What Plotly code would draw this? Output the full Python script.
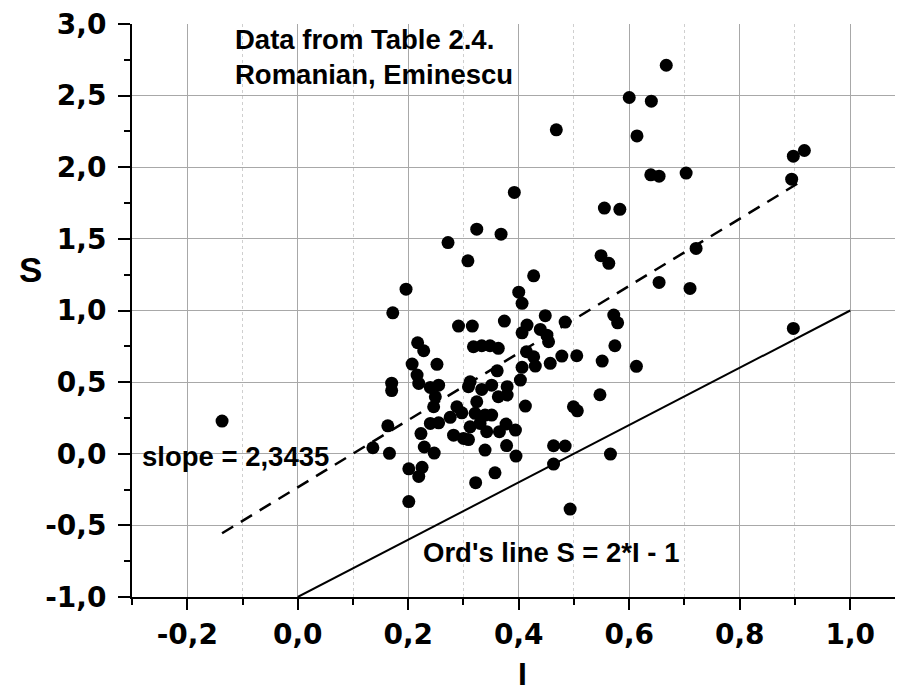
import plotly.graph_objects as go

# ---- data ----
I_vals = [0.667, 0.600, 0.640, 0.468, 0.614, 0.917, 0.897, 0.639, 0.654, 0.703,
          0.894, 0.392, 0.324, 0.368, 0.272, 0.308, 0.427, 0.196, 0.400, 0.406,
          0.172, 0.448, 0.374, 0.484, 0.555, 0.583, 0.549, 0.563, 0.721, 0.654,
          0.710, 0.572, 0.579, 0.574, 0.478, 0.505, 0.551, 0.613, 0.897, 0.547,
          0.499, 0.506, 0.484, 0.566, 0.463, 0.463, 0.493, -0.137, 0.291, 0.316,
          0.415, 0.406, 0.439, 0.451, 0.454, 0.217, 0.228, 0.318, 0.333, 0.348,
          0.363, 0.414, 0.427, 0.457, 0.430, 0.406, 0.361, 0.207, 0.252, 0.216,
          0.219, 0.170, 0.170, 0.240, 0.255, 0.312, 0.309, 0.333, 0.351, 0.379,
          0.403, 0.363, 0.379, 0.249, 0.246, 0.324, 0.321, 0.288, 0.297, 0.276,
          0.255, 0.240, 0.223, 0.312, 0.330, 0.339, 0.351, 0.342, 0.365, 0.377,
          0.394, 0.412, 0.282, 0.300, 0.309, 0.229, 0.247, 0.163, 0.136, 0.166,
          0.339, 0.378, 0.395, 0.201, 0.225, 0.219, 0.357, 0.322, 0.201]
S_vals = [2.712, 2.487, 2.461, 2.261, 2.219, 2.117, 2.077, 1.947, 1.938, 1.959,
          1.917, 1.824, 1.568, 1.533, 1.474, 1.347, 1.242, 1.149, 1.128, 1.050,
          0.984, 0.964, 0.926, 0.919, 1.715, 1.706, 1.383, 1.329, 1.433, 1.196,
          1.154, 0.968, 0.914, 0.754, 0.682, 0.684, 0.647, 0.610, 0.875, 0.412,
          0.328, 0.300, 0.054, -0.002, 0.056, -0.072, -0.386, 0.228, 0.891, 0.891,
          0.898, 0.844, 0.868, 0.828, 0.782, 0.775, 0.719, 0.747, 0.754, 0.754,
          0.736, 0.712, 0.677, 0.631, 0.612, 0.603, 0.579, 0.626, 0.624, 0.549,
          0.491, 0.493, 0.441, 0.463, 0.479, 0.502, 0.468, 0.449, 0.479, 0.468,
          0.514, 0.398, 0.410, 0.398, 0.328, 0.363, 0.282, 0.328, 0.286, 0.254,
          0.216, 0.212, 0.141, 0.188, 0.212, 0.270, 0.270, 0.154, 0.154, 0.207,
          0.165, 0.333, 0.130, 0.107, 0.099, 0.047, 0.005, 0.195, 0.042, 0.003,
          0.026, 0.057, -0.016, -0.105, -0.095, -0.158, -0.133, -0.202, -0.334]

fit_slope = 2.3435
fit_intercept = -0.234
ord_I = [0.0, 1.0]

x_tick_vals = [-0.2, 0.0, 0.2, 0.4, 0.6, 0.8, 1.0]
x_tick_text = ["-0,2", "0,0", "0,2", "0,4", "0,6", "0,8", "1,0"]
y_tick_vals = [-1.0, -0.5, 0.0, 0.5, 1.0, 1.5, 2.0, 2.5, 3.0]
y_tick_text = ["-1,0", "-0,5", "0,0", "0,5", "1,0", "1,5", "2,0", "2,5", "3,0"]

# derived lines
fit_I = [min(I_vals), max(I_vals)]
fit_S = [fit_slope * v + fit_intercept for v in fit_I]
ord_S = [2 * v - 1 for v in ord_I]

TICK_FONT = dict(family="DejaVu Sans", size=28, color="black", weight="bold")
TXT_FONT = dict(family="Liberation Sans, Arial", size=27.5, color="black", weight="bold")

fig = go.Figure()
fig.add_trace(go.Scatter(x=ord_I, y=ord_S, mode="lines",
                         line=dict(color="black", width=2), hoverinfo="skip"))
fig.add_trace(go.Scatter(x=fit_I, y=fit_S, mode="lines",
                         line=dict(color="black", width=2.5, dash="13px,9px"), hoverinfo="skip"))
fig.add_trace(go.Scatter(x=I_vals, y=S_vals, mode="markers",
                         marker=dict(color="black", size=13, line=dict(width=0))))

# the page body has an 8px default margin, so the figure is sized to fit inside it
fig.update_layout(
    width=895, height=685,
    margin=dict(l=124, r=0, t=16, b=96, autoexpand=False),
    paper_bgcolor="white", plot_bgcolor="white",
    showlegend=False,
    xaxis=dict(range=[-0.3, 1.0955], tickvals=x_tick_vals, ticktext=x_tick_text,
               showline=True, linecolor="black", linewidth=2,
               ticks="outside", ticklen=11, tickwidth=2, tickcolor="black",
               tickfont=TICK_FONT, ticklabeloverflow="allow",
               showgrid=True, gridcolor="#a8a8a8", gridwidth=1.2,
               zeroline=False,
               minor=dict(tick0=0, dtick=0.1, ticks="outside", ticklen=6, tickwidth=2,
                          tickcolor="black", showgrid=True, gridcolor="#cfcfcf",
                          gridwidth=1, griddash="3px,3px")),
    yaxis=dict(range=[-1.0, 3.0], tickvals=y_tick_vals, ticktext=y_tick_text,
               showline=True, linecolor="black", linewidth=2,
               ticks="outside", ticklen=12, tickwidth=2, tickcolor="black",
               tickfont=TICK_FONT, ticklabelstandoff=6, ticklabeloverflow="allow",
               showgrid=True, gridcolor="#a8a8a8", gridwidth=1.2, zeroline=False,
               minor=dict(tick0=0, dtick=0.25, ticks="outside", ticklen=6, tickwidth=2,
                          tickcolor="black", showgrid=False)),
)

annots = [
    dict(x=-0.1167, y=2.895, text="Data from Table 2.4.", xanchor="left"),
    dict(x=-0.1167, y=2.650, text="Romanian, Eminescu", xanchor="left"),
    dict(x=-0.285, y=-0.016, text="slope = 2,3435", xanchor="left"),
    dict(x=0.2235, y=-0.686, text="Ord's line S = 2*I - 1", xanchor="left"),
]
for a in annots:
    fig.add_annotation(xref="x", yref="y", yanchor="middle", showarrow=False,
                       font=TXT_FONT, **a)

fig.add_annotation(xref="paper", yref="paper", x=-0.131, y=0.5707, text="S",
                   showarrow=False, xanchor="center", yanchor="middle",
                   font=dict(family="Liberation Sans, Arial", size=35, color="black", weight="bold"))
fig.add_annotation(xref="paper", yref="paper", x=0.507, y=-0.1344, text="I",
                   showarrow=False, xanchor="center", yanchor="middle",
                   font=dict(family="Liberation Sans, Arial", size=32, color="black", weight="bold"))

fig.write_html("out.html")
